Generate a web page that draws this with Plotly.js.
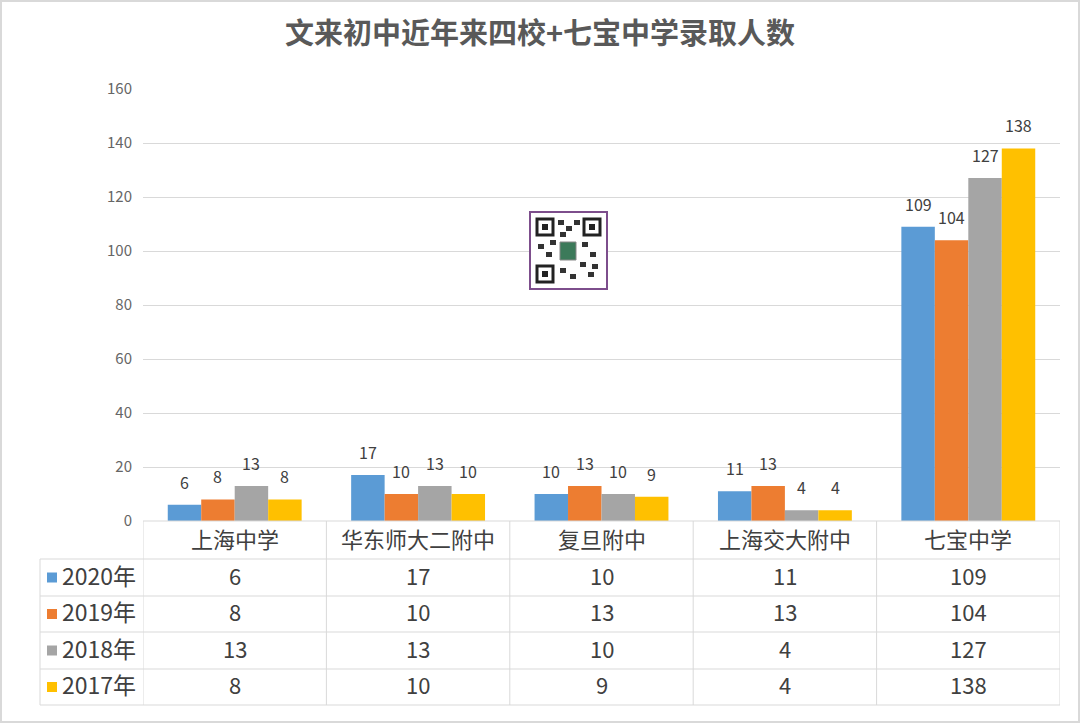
<!DOCTYPE html>
<html><head><meta charset="utf-8">
<script src="https://cdn.plot.ly/plotly-3.0.1.min.js"></script>
<style>html,body{margin:0;padding:0;background:#fff}#chart{width:1080px;height:723px}</style>
</head><body><div id="chart"></div>
<script>
const categories = ['上海中学','华东师大二附中','复旦附中','上海交大附中','七宝中学'];
const seriesNames = ['2020年','2019年','2018年','2017年'];
const v2020 = [6,17,10,11,109];
const v2019 = [8,10,13,13,104];
const v2018 = [13,13,10,4,127];
const v2017 = [8,10,9,4,138];
const yTicks = [0,20,40,60,80,100,120,140,160];

const allSeries = [v2020, v2019, v2018, v2017];
const colors = ['#5B9BD5','#ED7D31','#A5A5A5','#FFC000'];
const FONT = '"Noto Sans CJK SC", "Noto Sans", sans-serif';

const W = 1080, H = 723;
const L = 143, R = 20, T = 89, B = 202;
const PW = W - L - R, PH = H - T - B;
const px = p => (p - L) / PW;          // pixel x -> paper x
const py = p => (H - B - p) / PH;      // pixel y -> paper y

const BARGAP = 0.27;
const traces = allSeries.map((vals, i) => ({
  type: 'bar', name: seriesNames[i], x: categories, y: vals,
  marker: {color: colors[i]},
  hoverinfo: 'skip'
}));

const lineC = '#D9D9D9';
const shapes = [];
const rowY = [521, 559, 596, 632, 669, 705];
shapes.push({type:'line', xref:'paper', yref:'paper', x0:px(143), x1:px(1060), y0:py(521), y1:py(521), line:{color:lineC, width:1}});
for (let r = 1; r < rowY.length; r++) {
  shapes.push({type:'line', xref:'paper', yref:'paper', x0:px(40), x1:px(1060), y0:py(rowY[r]), y1:py(rowY[r]), line:{color:lineC, width:1}});
}
shapes.push({type:'line', xref:'paper', yref:'paper', x0:px(40), x1:px(40), y0:py(559), y1:py(705), line:{color:lineC, width:1}});
for (let c = 0; c <= categories.length; c++) {
  shapes.push({type:'line', xref:'x', yref:'paper', x0:c-0.5, x1:c-0.5, y0:py(521), y1:py(705), line:{color:lineC, width:1}});
}
shapes.push({type:'rect', xref:'paper', yref:'paper', x0:px(1), x1:px(1079), y0:py(1), y1:py(722), line:{color:'#D9D9D9', width:2}, layer:'below'});
for (let i = 0; i < 4; i++) {
  const cy = (rowY[i+1] + rowY[i+2]) / 2;
  shapes.push({type:'rect', xref:'paper', yref:'paper', x0:px(47), x1:px(57), y0:py(cy-5), y1:py(cy+5), fillcolor:colors[i], line:{width:0}});
}
// QR-code style watermark placeholder
const qx = 530, qy = 212, qs = 77;
shapes.push({type:'rect', xref:'paper', yref:'paper', x0:px(qx), x1:px(qx+qs), y0:py(qy), y1:py(qy+qs), fillcolor:'#FFFFFF', line:{color:'#7D4E8C', width:2}});
[[qx+7,qy+7],[qx+qs-23,qy+7],[qx+7,qy+qs-23]].forEach(([a,b]) => {
  shapes.push({type:'rect', xref:'paper', yref:'paper', x0:px(a), x1:px(a+16), y0:py(b), y1:py(b+16), fillcolor:'#FFFFFF', line:{color:'#222', width:3}});
  shapes.push({type:'rect', xref:'paper', yref:'paper', x0:px(a+5), x1:px(a+11), y0:py(b+5), y1:py(b+11), fillcolor:'#222', line:{width:0}});
});
shapes.push({type:'rect', xref:'paper', yref:'paper', x0:px(qx+30), x1:px(qx+46), y0:py(qy+30), y1:py(qy+48), fillcolor:'#3C7A5A', line:{color:'#888', width:1}});
[[qx+28,qy+8],[qx+36,qy+14],[qx+44,qy+8],[qx+30,qy+20],[qx+52,qy+30],[qx+60,qy+40],[qx+8,qy+32],[qx+16,qy+40],[qx+50,qy+50],[qx+58,qy+60],[qx+30,qy+56],[qx+40,qy+62],[qx+62,qy+52],[qx+20,qy+28]].forEach(([a,b]) => {
  shapes.push({type:'rect', xref:'paper', yref:'paper', x0:px(a), x1:px(a+6), y0:py(b), y1:py(b+5), fillcolor:'#333', line:{width:0}});
});

const annotations = [];
const barW = (1 - BARGAP) / allSeries.length;
allSeries.forEach((vals, i) => {
  const off = -(1 - BARGAP) / 2 + barW * (i + 0.5);
  vals.forEach((v, j) => {
    annotations.push({xref:'x', yref:'y', x:j + off, y:v, text:String(v), showarrow:false, yshift:23,
      xanchor:'center', yanchor:'middle', font:{family:FONT, size:16, color:'#404040'}});
  });
});
const tf = {family: FONT, size: 22, color: '#404040'};
categories.forEach((c, j) => {
  annotations.push({xref:'x', yref:'paper', x:j, y:py(540), yshift:2, text:c, showarrow:false, font:tf, xanchor:'center', yanchor:'middle'});
  allSeries.forEach((vals, i) => {
    const cy = (rowY[i+1] + rowY[i+2]) / 2;
    annotations.push({xref:'x', yref:'paper', x:j, y:py(cy), yshift:3, text:String(vals[j]), showarrow:false, font:tf, xanchor:'center', yanchor:'middle'});
  });
});
seriesNames.forEach((s, i) => {
  const cy = (rowY[i+1] + rowY[i+2]) / 2;
  annotations.push({xref:'paper', yref:'paper', x:px(60), y:py(cy), yshift:3, text:s, showarrow:false,
    font:{family:FONT, size:23, color:'#404040'}, xanchor:'left', yanchor:'middle'});
});

const layout = {
  width: W, height: H,
  margin: {l: L, r: R, t: T, b: B, pad: 0},
  paper_bgcolor: '#FFFFFF', plot_bgcolor: '#FFFFFF',
  title: {text: '文来初中近年来四校+七宝中学录取人数', x: 0.5, xref: 'container', xanchor: 'center', y: 1 - 34/H, yanchor: 'middle',
          font: {family: FONT, size: 29, color: '#595959', weight: 'bold'}},
  showlegend: false,
  barmode: 'group', bargap: BARGAP, bargroupgap: 0,
  xaxis: {type: 'category', showticklabels: false, showgrid: false, zeroline: false, showline: false, ticks: '', range: [-0.5, 4.5], fixedrange: true},
  yaxis: {range: [0, 160], tickvals: yTicks, ticktext: yTicks.map(String), showgrid: true, gridcolor: '#D9D9D9', gridwidth: 1,
          zeroline: false, showline: false, ticks: '', ticklabelstandoff: 10,
          tickfont: {family: FONT, size: 15, color: '#666666'}, fixedrange: true},
  shapes: shapes, annotations: annotations
};
Plotly.newPlot('chart', traces, layout, {displayModeBar: false, staticPlot: true});
</script></body></html>
